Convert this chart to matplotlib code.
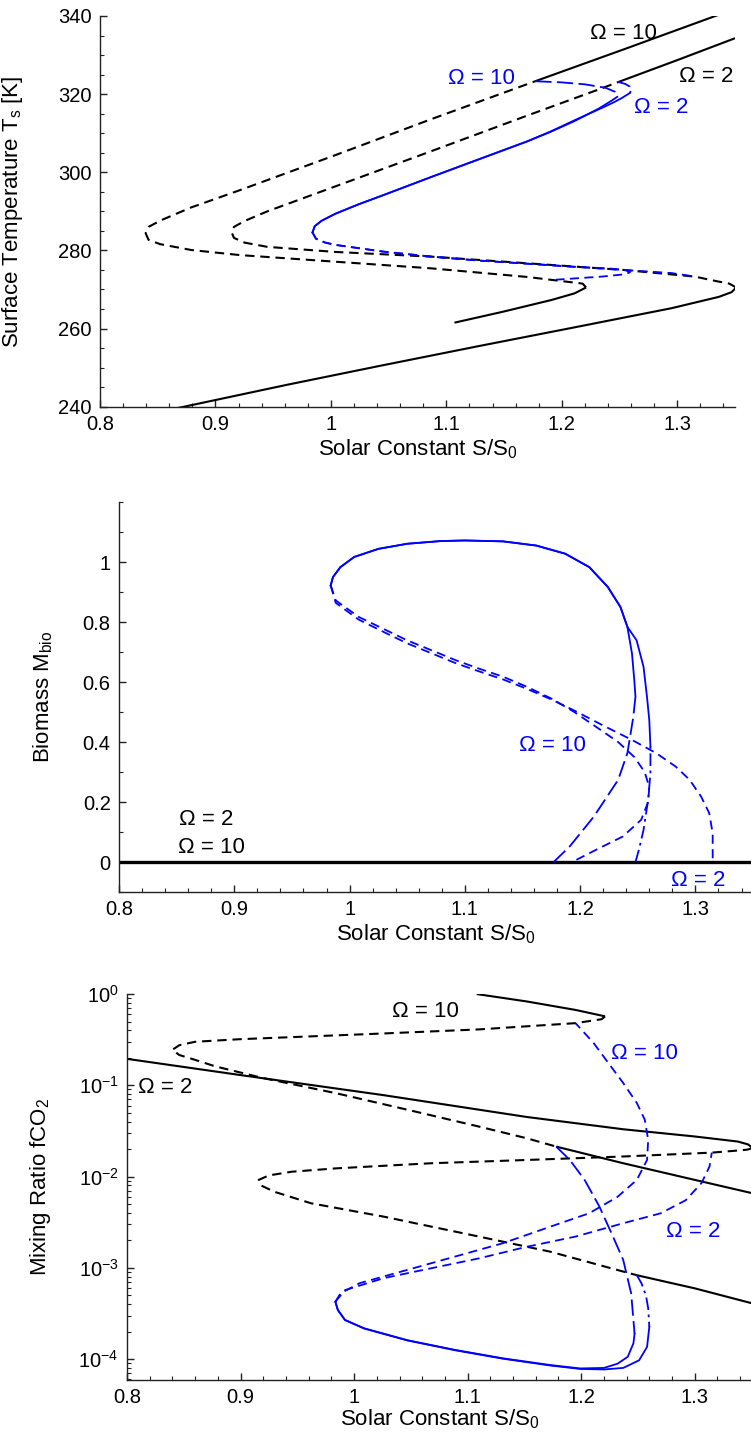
import matplotlib
matplotlib.use('Agg')
import matplotlib.pyplot as plt
from matplotlib.ticker import MultipleLocator, FuncFormatter, LogLocator, NullFormatter

plt.rcParams['font.family'] = ['Liberation Sans', 'DejaVu Sans']
plt.rcParams['mathtext.fontset'] = 'custom'
plt.rcParams['mathtext.rm'] = 'Liberation Sans'
plt.rcParams['mathtext.it'] = 'Liberation Sans:italic'
plt.rcParams['mathtext.default'] = 'regular'

# ---------------- Panel 1: surface temperature ----------------
# abiotic, Omega = 10
S_T_o10_cold = [1.107, 1.149, 1.191, 1.211, 1.221]
T_o10_cold = [261.5, 264.3, 267.3, 269.0, 270.5]
S_T_o10_unst = [1.221, 1.218, 1.17, 1.087, 1.004, 0.921, 0.879, 0.852, 0.842, 0.8395, 0.842, 0.852,
                0.879, 0.921, 1.004, 1.087, 1.177]
T_o10_unst = [270.5, 271.5, 273.2, 275.4, 277.1, 278.8, 280.1, 281.6, 282.7, 284.4, 286.0, 287.6,
              291.0, 295.4, 304.4, 313.6, 323.3]
S_T_o10_hot = [1.177, 1.255, 1.333, 1.35]
T_o10_hot = [323.3, 331.6, 340.0, 341.8]
# abiotic, Omega = 2
S_T_o2_cold = [0.8, 0.873, 0.962, 1.045, 1.128, 1.211, 1.295, 1.336, 1.347, 1.351]
T_o2_cold = [235.6, 240.0, 245.6, 250.6, 255.5, 260.3, 265.2, 268.1, 269.3, 270.5]
S_T_o2_unst = [1.351, 1.345, 1.336, 1.315, 1.253, 1.17, 1.087, 1.004, 0.945, 0.925, 0.916, 0.914,
               0.916, 0.925, 0.945, 1.004, 1.087, 1.17, 1.232, 1.249]
T_o2_unst = [270.5, 271.5, 272.0, 273.3, 275.0, 276.7, 278.4, 279.6, 280.9, 282.0, 283.2, 284.6,
             286.0, 287.5, 290.0, 296.4, 305.4, 314.5, 321.2, 323.1]
S_T_o2_hot = [1.249, 1.30, 1.35]
T_o2_hot = [323.1, 328.7, 334.3]
# biotic, Omega = 10
S_T_b10_bif = [1.177, 1.20, 1.22, 1.238, 1.246, 1.248]
T_b10_bif = [323.3, 323.0, 322.5, 321.6, 320.6, 319.3]
S_T_b10_stab = [1.248, 1.243, 1.232, 1.211, 1.19, 1.17, 1.128, 1.087, 1.045, 1.024, 1.004, 0.992,
                0.986, 0.984]
T_b10_stab = [319.3, 318.3, 316.3, 313.1, 310.3, 307.9, 303.3, 298.8, 294.1, 291.8, 289.4, 287.6,
              286.2, 284.6]
S_T_b10_unst = [0.984, 0.987, 0.995, 1.004, 1.045, 1.087, 1.128, 1.17, 1.211, 1.24, 1.255, 1.259,
                1.255, 1.235, 1.215, 1.195]
T_b10_unst = [284.6, 283.0, 282.0, 281.4, 279.7, 278.4, 277.4, 276.6, 275.8, 275.4, 275.0, 274.4,
              273.9, 273.3, 272.9, 272.5]
# biotic, Omega = 2
S_T_b2_bif = [1.249, 1.255, 1.259, 1.26, 1.259]
T_b2_bif = [323.1, 322.6, 321.9, 321.0, 320.3]
S_T_b2_stab = [1.259, 1.252, 1.245, 1.235, 1.211, 1.19, 1.17, 1.128, 1.087, 1.045, 1.024, 1.004,
               0.992, 0.986, 0.984]
T_b2_stab = [320.3, 319.0, 317.9, 316.5, 313.3, 310.4, 307.9, 303.3, 298.8, 294.1, 291.8, 289.4,
             287.6, 286.2, 284.6]
S_T_b2_unst = [0.984, 0.987, 0.995, 1.004, 1.045, 1.087, 1.128, 1.17, 1.211, 1.253, 1.295, 1.315]
T_b2_unst = [284.6, 283.0, 282.0, 281.4, 279.7, 278.4, 277.4, 276.6, 275.8, 275.0, 274.2, 273.3]

# ---------------- Panel 2: biomass ----------------
S_M_abiotic = [0.8, 1.35]
M_abiotic = [0.0, 0.0]
S_M_b10_bif = [1.177, 1.191, 1.212, 1.233, 1.241, 1.246, 1.248]
M_b10_bif = [0.0, 0.052, 0.152, 0.274, 0.363, 0.48, 0.551]
S_M_b10_stab = [1.248, 1.247, 1.245, 1.241, 1.235, 1.224, 1.208, 1.187, 1.162, 1.133, 1.1, 1.079,
                1.05, 1.025, 1.004, 0.992, 0.9856, 0.9836]
M_b10_stab = [0.551, 0.606, 0.695, 0.784, 0.85, 0.917, 0.983, 1.028, 1.055, 1.069, 1.072, 1.07,
              1.061, 1.044, 1.017, 0.983, 0.950, 0.922]
S_M_b2_bif = [1.248, 1.251, 1.255, 1.259, 1.261, 1.261]
M_b2_bif = [0.0, 0.041, 0.107, 0.207, 0.296, 0.385]
S_M_b2_stab = [1.261, 1.26, 1.258, 1.255, 1.249, 1.241, 1.235, 1.224, 1.208, 1.187, 1.162, 1.133,
               1.1, 1.079, 1.05, 1.025, 1.004, 0.992, 0.9856, 0.9836]
M_b2_stab = [0.385, 0.473, 0.551, 0.651, 0.739, 0.784, 0.85, 0.917, 0.983, 1.028, 1.055, 1.069,
             1.072, 1.07, 1.061, 1.044, 1.017, 0.983, 0.950, 0.922]
S_M_b10_unst = [0.9836, 0.988, 1.008, 1.029, 1.05, 1.071, 1.092, 1.112, 1.133, 1.154, 1.175, 1.195,
                1.216, 1.233, 1.247, 1.256, 1.26, 1.259, 1.253, 1.237, 1.216, 1.193]
M_b10_unst = [0.922, 0.872, 0.817, 0.778, 0.739, 0.706, 0.673, 0.645, 0.618, 0.584, 0.545, 0.50,
              0.445, 0.40, 0.35, 0.30, 0.25, 0.20, 0.141, 0.085, 0.045, 0.0]
S_M_b2_unst = [0.9836, 0.988, 1.008, 1.029, 1.05, 1.071, 1.092, 1.112, 1.133, 1.154, 1.175, 1.195,
               1.22, 1.245, 1.266, 1.283, 1.295, 1.305, 1.312, 1.315, 1.315]
M_b2_unst = [0.922, 0.864, 0.808, 0.768, 0.729, 0.696, 0.663, 0.636, 0.609, 0.577, 0.542, 0.505,
             0.455, 0.407, 0.363, 0.318, 0.274, 0.218, 0.163, 0.096, 0.0]

# ---------------- Panel 3: CO2 mixing ratio ----------------
S_F_o10_cold = [1.108, 1.152, 1.195, 1.221]
F_o10_cold = [1.0, 0.83, 0.67, 0.57]
S_F_o10_unst = [1.221, 1.218, 1.195, 1.110, 1.026, 0.899, 0.860, 0.846, 0.840, 0.846, 0.860, 0.878,
                0.920, 0.984, 1.047, 1.110, 1.152, 1.178]
F_o10_unst = [0.57, 0.53, 0.48, 0.41, 0.37, 0.32, 0.30, 0.275, 0.245, 0.215, 0.19, 0.161,
              0.12, 0.082, 0.054, 0.0353, 0.0263, 0.0213]
S_F_o10_hot = [1.178, 1.237, 1.3, 1.35]
F_o10_hot = [0.0213, 0.014, 0.0092, 0.0066]
S_F_o2_cold = [0.8, 0.899, 1.026, 1.152, 1.237, 1.3, 1.338, 1.347, 1.351]
F_o2_cold = [0.195, 0.130, 0.078, 0.045, 0.0330, 0.0275, 0.0242, 0.0225, 0.0205]
S_F_o2_unst = [1.351, 1.346, 1.338, 1.315, 1.237, 1.152, 1.068, 0.984, 0.945, 0.925, 0.916, 0.918,
               0.930, 0.962, 1.026, 1.110, 1.173, 1.237, 1.249]
F_o2_unst = [0.0205, 0.0197, 0.0193, 0.0183, 0.0166, 0.0152, 0.014, 0.0123, 0.0113, 0.0103, 0.0092,
             0.0080, 0.0068, 0.0051, 0.00364, 0.0022, 0.0015, 0.00091, 0.00083]
S_F_o2_hot = [1.249, 1.3, 1.35]
F_o2_hot = [0.00083, 0.000596, 0.00041]
S_F_b10_bif = [1.178, 1.19, 1.203, 1.216, 1.228, 1.237, 1.244, 1.247]
F_b10_bif = [0.0213, 0.0152, 0.0092, 0.0047, 0.0022, 0.00122, 0.000525, 0.00019]
S_F_b10_stab = [1.247, 1.246, 1.241, 1.232, 1.22, 1.199, 1.173, 1.131, 1.089, 1.047, 1.009, 0.992,
                0.9857, 0.9835]
F_b10_stab = [1.9e-4, 1.49e-4, 1.06e-4, 8.9e-5, 8.0e-5, 7.9e-5, 8.6e-5, 1.02e-4, 1.26e-4, 1.61e-4,
              2.17e-4, 2.68e-4, 3.45e-4, 4.25e-4]
S_F_b2_bif = [1.249, 1.253, 1.257, 1.259, 1.26]
F_b2_bif = [8.3e-4, 6.8e-4, 5.0e-4, 3.6e-4, 2.26e-4]
S_F_b2_stab = [1.26, 1.258, 1.251, 1.237, 1.22, 1.199, 1.173, 1.131, 1.089, 1.047, 1.009, 0.992,
               0.9857, 0.9835]
F_b2_stab = [2.26e-4, 1.36e-4, 9.7e-5, 8.0e-5, 7.7e-5, 7.8e-5, 8.5e-5, 1.01e-4, 1.25e-4, 1.6e-4,
             2.16e-4, 2.68e-4, 3.45e-4, 4.25e-4]
S_F_b10_unst = [0.9835, 0.988, 1.005, 1.047, 1.089, 1.131, 1.173, 1.207, 1.232, 1.249, 1.258, 1.259,
                1.256, 1.249, 1.237, 1.224, 1.211, 1.195]
F_b10_unst = [4.25e-4, 5.25e-4, 6.8e-4, 9.5e-4, 1.33e-3, 1.86e-3, 2.83e-3, 3.96e-3, 6.0e-3, 9.2e-3,
              0.0152, 0.0252, 0.042, 0.064, 0.106, 0.175, 0.29, 0.48]
S_F_b2_unst = [0.9835, 0.992, 1.026, 1.068, 1.11, 1.152, 1.195, 1.237, 1.27, 1.292, 1.306, 1.313, 1.315]
F_b2_unst = [4.25e-4, 5.7e-4, 7.7e-4, 9.9e-4, 1.27e-3, 1.7e-3, 2.2e-3, 3.08e-3, 3.96e-3, 5.5e-3,
             8.5e-3, 0.0129, 0.0183]

X_TICKS = [0.8, 0.9, 1.0, 1.1, 1.2, 1.3]

# ---------------- styles ----------------
BLUE = '#0000ff'
BLK_SOLID = dict(color='black', lw=1.5, solid_capstyle='butt')
BLK_DASH = dict(color='black', lw=1.5, dashes=(4.5, 2.8))
BLU_SOLID = dict(color=BLUE, lw=1.3)
BLU_DASH = dict(color=BLUE, lw=1.3, dashes=(5, 3))
BLU_LONG = dict(color=BLUE, lw=1.3, dashes=(9, 3))
BLU_DDOT = dict(color=BLUE, lw=1.3, dashes=(7, 2.5, 1.5, 2.5))

fig = plt.figure(figsize=(7.51, 14.39), dpi=100)
ax1 = fig.add_axes([0.1332, 0.7174, 0.8455, 0.2715])
ax2 = fig.add_axes([0.1585, 0.3801, 0.8442, 0.2710])
ax3 = fig.add_axes([0.1691, 0.0410, 0.8316, 0.2682])

fmt = FuncFormatter(lambda v, p: f'{v:g}')


def style_axes(ax):
    for s in ('top', 'right'):
        ax.spines[s].set_visible(False)
    for s in ('left', 'bottom'):
        ax.spines[s].set_color('#222222')
        ax.spines[s].set_linewidth(1.0)
    ax.set_xlim(0.8, 1.35)
    ax.set_xticks(X_TICKS)
    ax.xaxis.set_major_formatter(fmt)
    ax.xaxis.set_minor_locator(MultipleLocator(0.02))
    ax.tick_params(which='both', direction='in', labelsize=14.5, color='#222222')
    ax.tick_params(which='major', length=5, width=1.0, pad=6)
    ax.tick_params(which='minor', length=3, width=0.8)
    ax.set_xlabel('Solar Constant S/S$_0$', fontsize=16)


# Panel 1
ax1.plot(S_T_o10_cold, T_o10_cold, **BLK_SOLID)
ax1.plot(S_T_o10_unst, T_o10_unst, **BLK_DASH)
ax1.plot(S_T_o10_hot, T_o10_hot, **BLK_SOLID)
ax1.plot(S_T_o2_cold, T_o2_cold, **BLK_SOLID)
ax1.plot(S_T_o2_unst, T_o2_unst, **BLK_DASH)
ax1.plot(S_T_o2_hot, T_o2_hot, **BLK_SOLID)
ax1.plot(S_T_b10_bif, T_b10_bif, **BLU_LONG)
ax1.plot(S_T_b10_stab, T_b10_stab, **BLU_SOLID)
ax1.plot(S_T_b10_unst, T_b10_unst, **BLU_DASH)
ax1.plot(S_T_b2_bif, T_b2_bif, **BLU_DDOT)
ax1.plot(S_T_b2_stab, T_b2_stab, **BLU_SOLID)
ax1.plot(S_T_b2_unst, T_b2_unst, **BLU_DASH)
style_axes(ax1)
ax1.set_ylim(240, 340)
ax1.set_yticks([240, 260, 280, 300, 320, 340])
ax1.yaxis.set_minor_locator(MultipleLocator(5))
ax1.set_ylabel('Surface Temperature T$_\\mathrm{s}$ [K]', fontsize=16)
ax1.yaxis.set_label_coords(-0.118, 0.5)
ax1.xaxis.set_label_coords(0.5, -0.078)
ax1.text(1.253, 335.6, 'Ω = 10', fontsize=16, ha='center', va='center', color='black')
ax1.text(1.325, 324.4, 'Ω = 2', fontsize=16, ha='center', va='center', color='black')
ax1.text(1.130, 324.1, 'Ω = 10', fontsize=16, ha='center', va='center', color=BLUE)
ax1.text(1.286, 316.5, 'Ω = 2', fontsize=16, ha='center', va='center', color=BLUE)

# Panel 2
ax2.plot(S_M_abiotic, M_abiotic, color='black', lw=2.4)
ax2.plot(S_M_b10_bif, M_b10_bif, **BLU_LONG)
ax2.plot(S_M_b10_stab, M_b10_stab, **BLU_SOLID)
ax2.plot(S_M_b10_unst, M_b10_unst, **BLU_DASH)
ax2.plot(S_M_b2_bif, M_b2_bif, **BLU_DDOT)
ax2.plot(S_M_b2_stab, M_b2_stab, **BLU_SOLID)
ax2.plot(S_M_b2_unst, M_b2_unst, **BLU_DASH)
style_axes(ax2)
ax2.set_ylim(-0.1, 1.2)
ax2.set_yticks([0, 0.2, 0.4, 0.6, 0.8, 1.0])
ax2.yaxis.set_major_formatter(fmt)
ax2.yaxis.set_minor_locator(MultipleLocator(0.1))
ax2.set_ylabel('Biomass M$_\\mathrm{bio}$', fontsize=16)
ax2.yaxis.set_label_coords(-0.101, 0.5)
ax2.xaxis.set_label_coords(0.5, -0.078)
ax2.text(0.8755, 0.143, 'Ω = 2', fontsize=16, ha='center', va='center', color='black')
ax2.text(0.880, 0.047, 'Ω = 10', fontsize=16, ha='center', va='center', color='black')
ax2.text(1.176, 0.39, 'Ω = 10', fontsize=16, ha='center', va='center', color=BLUE)
ax2.text(1.302, -0.06, 'Ω = 2', fontsize=16, ha='center', va='center', color=BLUE)

# Panel 3
ax3.plot(S_F_o10_cold, F_o10_cold, **BLK_SOLID)
ax3.plot(S_F_o10_unst, F_o10_unst, **BLK_DASH)
ax3.plot(S_F_o10_hot, F_o10_hot, **BLK_SOLID)
ax3.plot(S_F_o2_cold, F_o2_cold, **BLK_SOLID)
ax3.plot(S_F_o2_unst, F_o2_unst, **BLK_DASH)
ax3.plot(S_F_o2_hot, F_o2_hot, **BLK_SOLID)
ax3.plot(S_F_b10_bif, F_b10_bif, **BLU_LONG)
ax3.plot(S_F_b10_stab, F_b10_stab, **BLU_SOLID)
ax3.plot(S_F_b10_unst, F_b10_unst, **BLU_DASH)
ax3.plot(S_F_b2_bif, F_b2_bif, **BLU_DDOT)
ax3.plot(S_F_b2_stab, F_b2_stab, **BLU_SOLID)
ax3.plot(S_F_b2_unst, F_b2_unst, **BLU_DASH)
ax3.set_yscale('log')
style_axes(ax3)
ax3.set_ylim(5.9e-5, 1.0)
ax3.yaxis.set_major_locator(LogLocator(base=10, numticks=10))
ax3.yaxis.set_minor_locator(LogLocator(base=10, subs=range(2, 10), numticks=10))
ax3.yaxis.set_minor_formatter(NullFormatter())
ax3.set_ylabel('Mixing Ratio fCO$_2$', fontsize=16)
ax3.yaxis.set_label_coords(-0.119, 0.5)
ax3.xaxis.set_label_coords(0.5, -0.072)
ax3.text(1.063, 0.65, 'Ω = 10', fontsize=16, ha='center', va='center', color='black')
ax3.text(0.834, 0.0955, 'Ω = 2', fontsize=16, ha='center', va='center', color='black')
ax3.text(1.2555, 0.2255, 'Ω = 10', fontsize=16, ha='center', va='center', color=BLUE)
ax3.text(1.2987, 0.00252, 'Ω = 2', fontsize=16, ha='center', va='center', color=BLUE)

fig.savefig('out.png', dpi=100)
